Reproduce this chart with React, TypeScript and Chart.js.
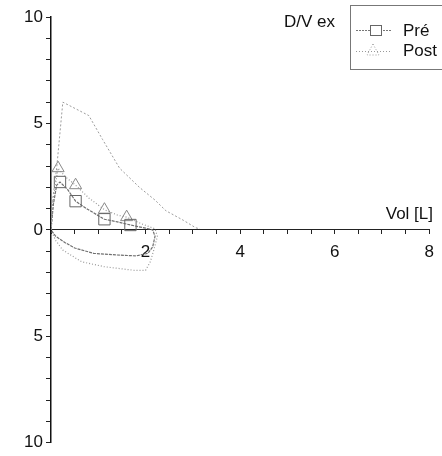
import React, { useEffect, useRef } from "react";
import { Chart, registerables } from "chart.js";

Chart.register(...registerables);

// Predicted expiratory curve
const predVol = [0, 0.04, 0.12, 0.25, 0.8, 1.09, 1.45, 1.87, 2.2, 2.43, 2.8, 3.06, 3.15];
const predFlow = [0, 1.5, 2.9, 6.0, 5.37, 4.25, 2.9, 2.0, 1.4, 0.9, 0.45, 0.1, 0.05];

// Pré loop (expiration then inspiration back to origin)
const preVol = [0, 0.05, 0.12, 0.19, 0.35, 0.52, 0.75, 1.13, 1.4, 1.68, 2.0, 2.15, 2.2, 2.15, 2.05, 1.8, 1.4, 0.9, 0.5, 0.3, 0.1, 0];
const preFlow = [0, 1.2, 2.1, 2.25, 1.9, 1.35, 1.0, 0.5, 0.38, 0.23, 0.08, 0, -0.3, -0.8, -1.1, -1.22, -1.18, -1.1, -0.85, -0.6, -0.3, 0];
const preMarked = [3, 5, 7, 9];

// Post loop
const postVol = [0, 0.05, 0.15, 0.3, 0.52, 0.8, 1.13, 1.4, 1.6, 1.9, 2.2, 2.25, 2.18, 2.1, 2.0, 1.76, 1.13, 0.65, 0.25, 0.1, 0];
const postFlow = [0, 1.5, 2.9, 2.5, 2.1, 1.5, 0.95, 0.7, 0.6, 0.3, 0.05, -0.3, -0.9, -1.5, -1.9, -1.9, -1.73, -1.5, -0.95, -0.5, 0];
const postMarked = [2, 4, 6, 8];

const xLabelValues = [2, 4, 6, 8];
const yLabelValues = [10, 5, 0, -5, -10];
const legendLabels = ["Pré", "Post"];
const yTitle = "D/V ex";
const xTitle = "Vol [L]";

const FONT = '"Liberation Sans", Arial, sans-serif';

const toPoints = (xs: number[], ys: number[]) => xs.map((x, i) => ({ x, y: ys[i] }));
const radii = (n: number, marked: number[], r: number) =>
  Array.from({ length: n }, (_, i) => (marked.includes(i) ? r : 0));

const textPlugin = {
  id: "texts",
  afterDraw(chart: any) {
    const ctx = chart.ctx as CanvasRenderingContext2D;
    ctx.save();
    ctx.fillStyle = "#111";
    ctx.font = `17px ${FONT}`;
    ctx.textBaseline = "middle";
    ctx.textAlign = "left";
    ctx.fillText(yTitle, 284, 22);
    ctx.textAlign = "right";
    ctx.fillText(xTitle, 433, 214);

    // legend box
    ctx.strokeStyle = "#777";
    ctx.lineWidth = 1;
    ctx.strokeRect(350.5, 5.5, 120, 64);
    // Pré entry
    ctx.strokeStyle = "#777";
    ctx.setLineDash([2, 1]);
    ctx.beginPath();
    ctx.moveTo(356, 30.5);
    ctx.lineTo(392, 30.5);
    ctx.stroke();
    ctx.setLineDash([]);
    ctx.strokeStyle = "#666";
    ctx.fillStyle = "#fff";
    ctx.fillRect(370, 25, 12, 11);
    ctx.strokeRect(370.5, 25.5, 11, 10);
    // Post entry
    ctx.strokeStyle = "#999";
    ctx.setLineDash([1, 2]);
    ctx.beginPath();
    ctx.moveTo(356, 51.5);
    ctx.lineTo(392, 51.5);
    ctx.stroke();
    ctx.beginPath();
    ctx.moveTo(373, 44);
    ctx.lineTo(379, 55);
    ctx.lineTo(367, 55);
    ctx.closePath();
    ctx.stroke();
    ctx.setLineDash([]);

    ctx.fillStyle = "#111";
    ctx.textAlign = "left";
    ctx.fillText(legendLabels[0], 403, 31);
    ctx.fillText(legendLabels[1], 403, 51);
    ctx.restore();
  },
};

export default function App() {
  const ref = useRef<HTMLCanvasElement | null>(null);
  useEffect(() => {
    if (!ref.current) return;
    const chart = new Chart(ref.current, {
      type: "scatter",
      data: {
        datasets: [
          {
            label: "pred",
            data: toPoints(predVol, predFlow),
            showLine: true,
            borderColor: "#9c9c9c",
            borderWidth: 1,
            borderDash: [2, 2],
            pointRadius: 0,
            tension: 0,
          },
          {
            label: legendLabels[0],
            data: toPoints(preVol, preFlow),
            showLine: true,
            borderColor: "#6f6f6f",
            borderWidth: 1.2,
            borderDash: [3, 1],
            pointStyle: "rect",
            pointRadius: radii(preVol.length, preMarked, 8),
            pointBorderColor: "#666",
            pointBackgroundColor: "rgba(0,0,0,0)",
            pointBorderWidth: 1,
            tension: 0,
          },
          {
            label: legendLabels[1],
            data: toPoints(postVol, postFlow),
            showLine: true,
            borderColor: "#999",
            borderWidth: 1.2,
            borderDash: [1, 2],
            pointStyle: "triangle",
            pointRadius: radii(postVol.length, postMarked, 7),
            pointBorderColor: "#888",
            pointBackgroundColor: "rgba(0,0,0,0)",
            pointBorderWidth: 1,
            tension: 0,
          },
        ],
      },
      options: {
        responsive: false,
        animation: false,
        layout: { padding: { top: 17, right: 10, bottom: 11, left: 0 } },
        plugins: { legend: { display: false }, tooltip: { enabled: false } },
        scales: {
          x: {
            type: "linear",
            min: 0,
            max: 8,
            position: { y: 0 } as any,
            afterFit: (s: any) => {
              s.height = 0;
            },
            border: { display: true, color: "#222", width: 1 },
            grid: { display: true, drawOnChartArea: false, tickLength: 4, color: "#222" },
            ticks: {
              stepSize: 0.5,
              autoSkip: false,
              maxRotation: 0,
              padding: 8,
              color: "#111",
              font: { family: FONT, size: 17 },
              callback: (v: any) => (xLabelValues.includes(Number(v)) ? String(v) : ""),
            },
          },
          y: {
            type: "linear",
            min: -10,
            max: 10,
            position: "left",
            afterFit: (s: any) => {
              s.width = 51;
            },
            border: { display: true, color: "#111", width: 1.5 },
            grid: { display: true, drawOnChartArea: false, tickLength: 5, color: "#222" },
            ticks: {
              stepSize: 1,
              autoSkip: false,
              padding: 3,
              color: "#111",
              font: { family: FONT, size: 17 },
              callback: (v: any) => (yLabelValues.includes(Number(v)) ? String(Math.abs(Number(v))) : ""),
            },
          },
        },
      },
      plugins: [textPlugin],
    });
    return () => chart.destroy();
  }, []);
  return (
    <div style={{ position: "absolute", left: 0, top: 0, width: 442, height: 456, background: "#fff" }}>
      <canvas ref={ref} width={442} height={456} />
    </div>
  );
}
